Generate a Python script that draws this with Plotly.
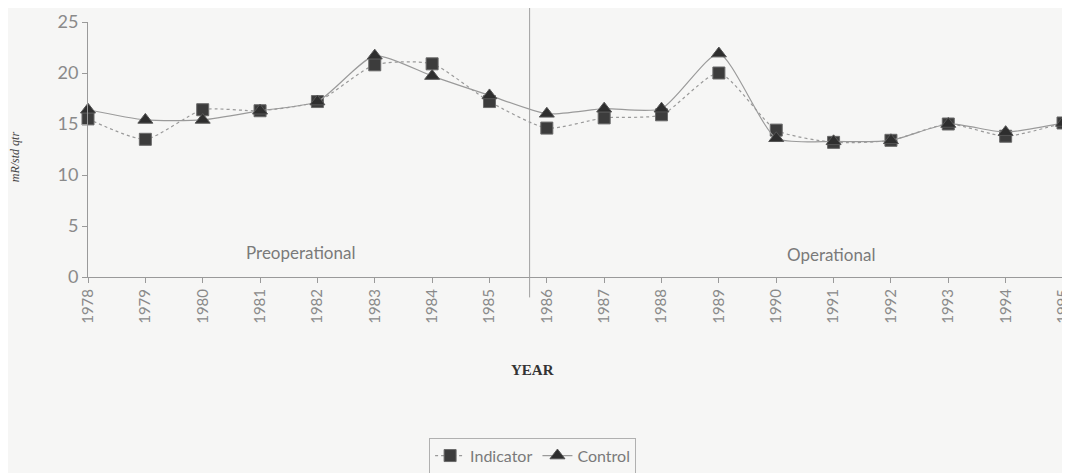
import plotly.graph_objects as go

# ---------------- DATA ----------------
years = list(range(1978, 1996))
indicator = [15.5, 13.5, 16.4, 16.3, 17.2, 20.8, 20.9, 17.2, 14.6, 15.6,
             15.9, 20.0, 14.4, 13.2, 13.4, 15.0, 13.8, 15.1]
control = [16.4, 15.4, 15.4, 16.3, 17.2, 21.7, 19.7, 17.8, 16.0, 16.5,
           16.5, 21.9, 13.6, 13.3, 13.4, 15.0, 14.2, 15.1]
y_ticks = [0, 5, 10, 15, 20, 25]
phase_split = 1985.7

bg = '#f6f6f5'
grey_txt = '#8a8a8a'
line_grey = '#9a9a9a'

fig = go.Figure()

fig.add_trace(go.Scatter(
    x=years, y=indicator, name='Indicator', mode='lines+markers',
    line=dict(color=line_grey, width=1.2, dash='dot', shape='spline', smoothing=0.6),
    marker=dict(symbol='square', size=12, color='#3c3c3c', line=dict(color='#6a6a6a', width=1)),
    cliponaxis=False
))
fig.add_trace(go.Scatter(
    x=years, y=control, name='Control', mode='lines+markers',
    line=dict(color=line_grey, width=1.2, shape='spline', smoothing=0.6),
    marker=dict(symbol='triangle-up', size=13, color='#2e2e2e', line=dict(color='#555555', width=1)),
    cliponaxis=False
))

# preoperational / operational divider
fig.add_shape(type='line', xref='x', yref='paper', x0=phase_split, x1=phase_split,
              y0=-0.08, y1=1.07, line=dict(color='#a0a0a0', width=1))

fig.add_annotation(x=1981.7, y=2.4, text='Preoperational', showarrow=False,
                   font=dict(family='Lato', size=17, color='#7a7a7a'))
fig.add_annotation(x=1990.95, y=2.2, text='Operational', showarrow=False,
                   font=dict(family='Lato', size=17, color='#7a7a7a'))

fig.add_annotation(xref='paper', yref='paper', x=0.456, y=-0.404, text='<b>YEAR</b>',
                   showarrow=False, font=dict(family='Liberation Serif', size=15, color='#333333'))
fig.add_annotation(xref='paper', yref='paper', x=-0.084, y=0.47, text='<i>mR/std qtr</i>',
                   textangle=-90, showarrow=False,
                   font=dict(family='Liberation Serif', size=12, color='#444444'))

fig.update_layout(
    width=1062, height=465,
    paper_bgcolor=bg, plot_bgcolor=bg,
    margin=dict(l=80, r=7, t=14, b=196, autoexpand=False),
    showlegend=True,
    legend=dict(orientation='h', xanchor='center', x=0.456, yanchor='top', y=-0.63,
                bgcolor=bg, bordercolor='#b0b0b0', borderwidth=1,
                font=dict(family='Lato', size=16, color='#7a7a7a'),
                itemwidth=30),
    xaxis=dict(
        range=[1978, 1995], tickmode='array', tickvals=years,
        ticktext=[str(y) for y in years], tickangle=-90,
        tickfont=dict(family='Lato', size=15, color=grey_txt),
        ticklabeloverflow='allow', automargin=False,
        showgrid=False, zeroline=False, showline=True, linecolor='#9a9a9a', linewidth=1,
        ticks='outside', ticklen=5, tickcolor='#9a9a9a'
    ),
    yaxis=dict(
        range=[0, 25], tickmode='array', tickvals=y_ticks, automargin=False,
        tickfont=dict(family='Lato', size=18, color=grey_txt),
        showgrid=False, zeroline=False, showline=True, linecolor='#9a9a9a', linewidth=1,
        ticks='outside', ticklen=5, tickcolor='#9a9a9a'
    )
)

fig.write_html("out.html")
